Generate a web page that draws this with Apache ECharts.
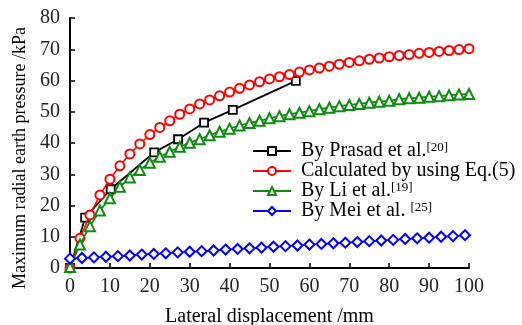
<!DOCTYPE html>
<html>
<head>
<meta charset="utf-8">
<script src="https://cdn.jsdelivr.net/npm/echarts@6/dist/echarts.min.js"></script>
<style>html,body{margin:0;padding:0;background:#fff}#c{width:522px;height:325px}</style>
</head>
<body>
<div id="c"></div>
<script>
const xTicks = [0, 10, 20, 30, 40, 50, 60, 70, 80, 90, 100];
const yTicks = [0, 10, 20, 30, 40, 50, 60, 70, 80];

const prasadX = [0, 3.8, 10.2, 21.1, 27.1, 33.6, 40.8, 56.6];
const prasadY = [0, 16.1, 25.2, 37.0, 41.2, 46.5, 50.6, 59.9];

const calcX = [0, 2.5, 5, 7.5, 10, 12.5, 15, 17.5, 20, 22.5, 25, 27.5, 30, 32.5, 35, 37.5, 40, 42.5, 45, 47.5, 50,
  52.5, 55, 57.5, 60, 62.5, 65, 67.5, 70, 72.5, 75, 77.5, 80, 82.5, 85, 87.5, 90, 92.5, 95, 97.5, 100];
const calcY = [0, 9.5, 17.0, 23.4, 28.4, 32.7, 36.5, 39.7, 42.7, 45.0, 47.1, 49.2, 50.9, 52.5, 53.8, 55.1, 56.3, 57.5, 58.6, 59.6, 60.5,
  61.2, 61.9, 62.7, 63.4, 64.0, 64.6, 65.2, 65.8, 66.3, 66.8, 67.2, 67.6, 68.0, 68.3, 68.7, 69.0, 69.3, 69.6, 69.9, 70.2];

const liX = calcX;
const liY = [0.3, 7.5, 13.4, 18.4, 22.3, 26.0, 29.0, 31.4, 33.7, 35.6, 37.2, 38.8, 40.1, 41.2, 42.5, 43.6, 44.6, 45.6, 46.4, 47.1, 47.9,
  48.6, 49.2, 49.7, 50.2, 50.8, 51.3, 51.8, 52.2, 52.5, 52.9, 53.2, 53.5, 54.0, 54.3, 54.5, 54.8, 55.0, 55.3, 55.5, 55.7];

const meiX = [0, 3, 6, 9, 12, 15, 18, 21, 24, 27, 30, 33, 36, 39, 42, 45, 48, 51, 54, 57, 60, 63, 66, 69, 72, 75, 78, 81, 84, 87, 90, 93, 96, 99];
const meiY = [3.0, 3.2, 3.4, 3.6, 3.8, 4.0, 4.3, 4.5, 4.7, 5.0, 5.2, 5.4, 5.6, 5.9, 6.1, 6.3, 6.5, 6.8, 7.0, 7.2, 7.5, 7.7, 7.9, 8.1, 8.3, 8.6, 8.8, 9.0, 9.3, 9.5, 9.7, 10.0, 10.2, 10.5];

const seriesNames = ['By Prasad et al.', 'Calculated by using Eq.(5)', 'By Li et al.', 'By Mei et al. '];
const seriesRefs = ['20', '', '19', '25'];

const FONT = '"Liberation Serif", "Times New Roman", serif';
const pair = (xs, ys) => xs.map((x, i) => [x, ys[i]]);

const chart = echarts.init(document.getElementById('c'), null, {renderer: 'canvas'});
chart.setOption({
  animation: false,
  backgroundColor: '#fff',
  grid: {left: 70, right: 53, top: 18, bottom: 57, containLabel: false, outerBoundsMode: 'none'},
  xAxis: {
    type: 'value', min: 0, max: 100, interval: 10,
    name: 'Lateral displacement /mm', nameLocation: 'middle', nameGap: 39,
    nameTextStyle: {fontFamily: FONT, fontSize: 20, color: '#000'},
    axisLine: {lineStyle: {color: '#000', width: 2}},
    axisTick: {inside: true, length: 5, lineStyle: {color: '#000', width: 1.5}},
    axisLabel: {fontFamily: FONT, fontSize: 20, color: '#222', margin: 9},
    splitLine: {show: false}
  },
  yAxis: {
    type: 'value', min: 0, max: 80, interval: 10,
    name: 'Maximum radial earth pressure /kPa', nameLocation: 'middle', nameGap: 31, nameRotate: 90,
    nameTextStyle: {fontFamily: FONT, fontSize: 18, color: '#000', padding: [0, 30, 0, 0]},
    axisLine: {show: true, lineStyle: {color: '#000', width: 2}},
    axisTick: {show: true, inside: true, length: 5, lineStyle: {color: '#000', width: 1.5}},
    axisLabel: {fontFamily: FONT, fontSize: 20, color: '#222', margin: 10},
    splitLine: {show: false}
  },
  legend: {
    orient: 'vertical', left: 247, top: 136, itemGap: 0,
    itemWidth: 38, itemHeight: 10,
    textStyle: {fontFamily: FONT, fontSize: 20, color: '#000', padding: [0, 0, 0, 5],
      rich: {sup: {fontFamily: FONT, fontSize: 13, verticalAlign: 'top', lineHeight: 20, color: '#000'},
             n: {fontFamily: FONT, fontSize: 20, lineHeight: 20, color: '#000'}}},
    formatter: function (name) {
      const i = seriesNames.indexOf(name);
      return '{n|' + name + '}' + (seriesRefs[i] ? '{sup|[' + seriesRefs[i] + ']}' : '');
    },
    data: seriesNames
  },
  series: [
    {name: seriesNames[0], type: 'line', data: pair(prasadX, prasadY), symbol: 'rect', symbolSize: 8,
      lineStyle: {color: '#000', width: 1.8}, itemStyle: {color: '#fff', borderColor: '#000', borderWidth: 1.8}, z: 2},
    {name: seriesNames[1], type: 'line', data: pair(calcX, calcY), symbol: 'circle', symbolSize: 9,
      lineStyle: {color: '#ff0000', width: 1.5}, itemStyle: {color: '#fff', borderColor: '#ff0000', borderWidth: 2}, z: 3},
    {name: seriesNames[2], type: 'line', data: pair(liX, liY), symbol: 'triangle', symbolSize: 10,
      lineStyle: {color: '#108a10', width: 1.8}, itemStyle: {color: '#fff', borderColor: '#108a10', borderWidth: 2}, z: 4},
    {name: seriesNames[3], type: 'line', data: pair(meiX, meiY), symbol: 'diamond', symbolSize: 10,
      lineStyle: {color: '#0000ff', width: 1.5}, itemStyle: {color: '#fff', borderColor: '#0000ff', borderWidth: 2}, z: 5}
  ]
});
</script>
</body>
</html>
